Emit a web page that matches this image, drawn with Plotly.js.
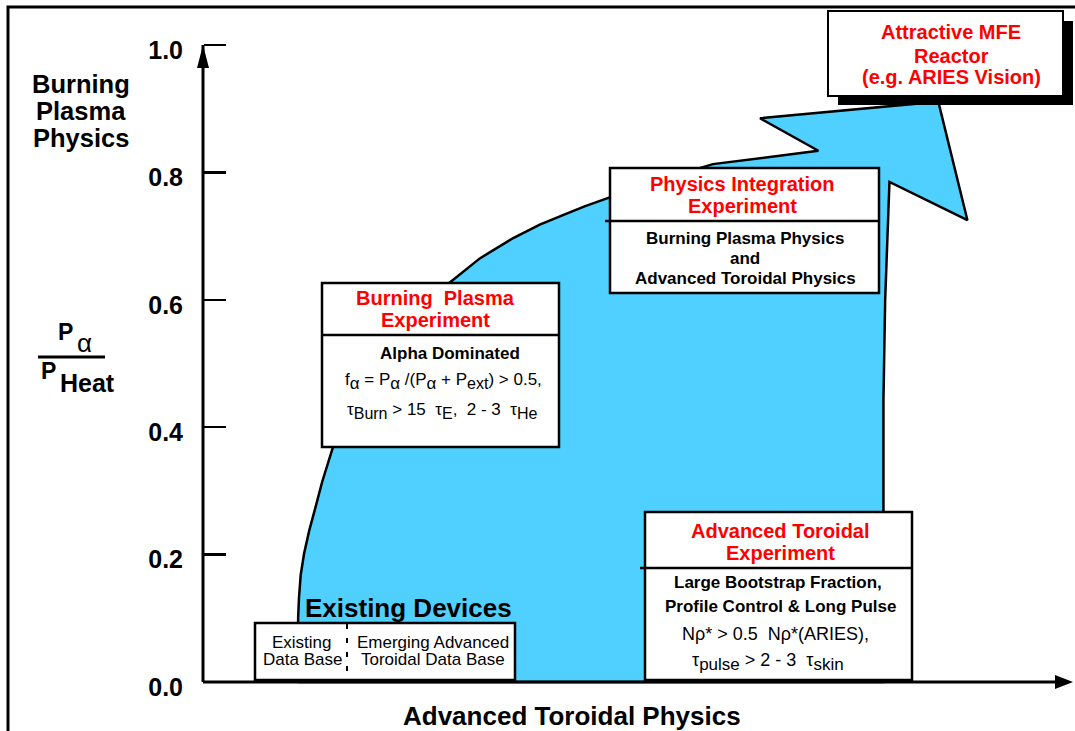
<!DOCTYPE html>
<html><head><meta charset="utf-8">
<script src="https://cdn.plot.ly/plotly-3.0.1.min.js"></script>
<style>html,body{margin:0;padding:0;background:#fff;overflow:hidden}</style>
</head><body><div id="chart" style="width:1075px;height:731px"></div>
<script>
// ---- data ----
const tickVals = [0, 0.2, 0.4, 0.6, 0.8, 1.0];
const tickText = ['0.0', '0.2', '0.4', '0.6', '0.8', '1.0'];
// outline of the development-path region (x: advanced toroidal physics, normalised; y: Pα/PHeat)
const pathX = [0.111, 0.111, 0.111, 0.112, 0.114, 0.118, 0.124, 0.131, 0.139, 0.151, 0.166, 0.186, 0.209, 0.236, 0.262, 0.288, 0.323, 0.362, 0.393, 0.420, 0.446, 0.473, 0.533, 0.595, 0.673, 0.718, 0.650, 0.858, 0.892, 0.801, 0.796, 0.794, 0.794, 0.794, 0.111];
const pathY = [0.000, 0.061, 0.100, 0.132, 0.168, 0.202, 0.238, 0.273, 0.314, 0.366, 0.418, 0.470, 0.520, 0.567, 0.600, 0.627, 0.665, 0.697, 0.718, 0.733, 0.747, 0.760, 0.788, 0.813, 0.827, 0.834, 0.885, 0.911, 0.725, 0.785, 0.600, 0.443, 0.270, 0.000, 0.000];
const yTitleLines = ['Burning', 'Plasma', 'Physics'];
const xTitle = 'Advanced Toroidal Physics';

// ---- geometry (pixels) ----
const W = 1075, H = 731;
const X0 = 203, XS = 857, Y0 = 682, YS = 637;
const F = '"Liberation Sans", Arial, Helvetica, sans-serif';
const RED = 'rgb(255,0,0)';
const px = v => v / W, py = v => 1 - v / H;
const sb = (t, s) => '<sub><span style="font-size:' + s + 'px">' + t + '</span></sub>';

const trace = {
  x: pathX, y: pathY, type: 'scatter', mode: 'lines', fill: 'toself',
  fillcolor: 'rgb(80,208,255)', line: {color: '#000', width: 2.5},
  hoverinfo: 'skip', showlegend: false
};

function box(x0, y0, x1, y1, lw) {
  return {type: 'rect', xref: 'paper', yref: 'paper', x0: px(x0), x1: px(x1), y0: py(y1), y1: py(y0),
    fillcolor: '#fff', line: {color: '#000', width: lw || 2.5}, layer: 'above'};
}
function hline(x0, x1, y, lw) {
  return {type: 'line', xref: 'paper', yref: 'paper', x0: px(x0), x1: px(x1), y0: py(y), y1: py(y),
    line: {color: '#000', width: lw || 2.5}, layer: 'above'};
}
function T(text, x, y, size, color, bold) {
  return {xref: 'paper', yref: 'paper', x: px(x), y: py(y), xanchor: 'center', yanchor: 'middle',
    showarrow: false, text: text,
    font: {family: F, size: size, color: color || '#000', weight: bold ? 'bold' : 'normal'}};
}

const shapes = [
  // outer frame
  {type: 'rect', xref: 'paper', yref: 'paper', x0: px(8), x1: 1.05, y0: -0.05, y1: py(7),
    line: {color: '#000', width: 3}, layer: 'below'},
  // axes
  {type: 'line', xref: 'x', yref: 'y', x0: 0, x1: 0, y0: 0, y1: 1.0, line: {color: '#000', width: 3}, layer: 'above'},
  {type: 'line', xref: 'x', yref: 'y', x0: 0, x1: 1.0, y0: 0, y1: 0, line: {color: '#000', width: 3}, layer: 'above'},
  {type: 'path', xref: 'x', yref: 'y', xsizemode: 'pixel', ysizemode: 'pixel', xanchor: 0, yanchor: 1.0,
    path: 'M -6 -23 L 0 0 L 6 -23 Z', fillcolor: '#000', line: {width: 0}, layer: 'above'},
  {type: 'path', xref: 'x', yref: 'y', xsizemode: 'pixel', ysizemode: 'pixel', xanchor: (W - 2 - X0) / XS, yanchor: 0,
    path: 'M -18 7 L 0 0 L -18 -7 Z', fillcolor: '#000', line: {width: 0}, layer: 'above'},
  // P_alpha / P_heat fraction bar
  hline(38, 105, 357, 3),
  // Burning plasma experiment box
  box(322, 283, 559, 447), hline(322, 559, 335),
  // Physics integration experiment box
  box(610, 168, 879, 293), hline(605, 879, 221),
  // Advanced toroidal experiment box
  box(645, 512, 912, 680), hline(640, 912, 568),
  // Reactor box with shadow
  {type: 'rect', xref: 'paper', yref: 'paper', x0: px(838), x1: px(1073), y0: py(105), y1: py(21),
    fillcolor: '#000', line: {width: 0}, layer: 'above'},
  box(828, 11, 1063, 96, 2),
  // existing devices box
  box(255, 623, 515, 680, 2.5),
  {type: 'line', xref: 'paper', yref: 'paper', x0: px(347), x1: px(347), y0: py(624), y1: py(679),
    line: {color: '#000', width: 2, dash: '5px,9px'}, layer: 'above'}
];

const annotations = [
  T(yTitleLines[0], 81, 84, 25.5, '#000', true),
  T(yTitleLines[1], 81, 111, 25.5, '#000', true),
  T(yTitleLines[2], 81, 138, 25.5, '#000', true),
  T('P', 65, 332, 23, '#000', true),
  T('α', 84, 343, 26, '#000', false),
  T('P', 49, 371, 23, '#000', true),
  T('Heat', 87, 383, 25, '#000', true),
  T(xTitle, 572, 716, 26, '#000', true),

  T('Burning&nbsp;&nbsp;Plasma', 435, 298, 20, RED, true),
  T('Experiment', 435, 320, 20, RED, true),
  T('Alpha Dominated', 450, 353, 17, '#000', true),
  T('f' + sb('α', 17) + ' = P' + sb('α', 17) + ' /(P' + sb('α', 17) + ' + P' + sb('ext', 16) + ') &gt; 0.5,', 443, 381, 17, '#000', false),
  T('τ' + sb('Burn', 16) + ' &gt; 15&nbsp;&nbsp;τ' + sb('E', 16) + ',&nbsp;&nbsp;2 - 3&nbsp;&nbsp;τ' + sb('He', 16), 442, 411, 17, '#000', false),

  T('Physics Integration', 742, 184, 20, RED, true),
  T('Experiment', 742, 206, 20, RED, true),
  T('Burning Plasma Physics', 745, 238, 17, '#000', true),
  T('and', 745, 258, 17, '#000', true),
  T('Advanced Toroidal Physics', 745, 278, 17, '#000', true),

  T('Advanced Toroidal', 780, 531, 20, RED, true),
  T('Experiment', 780, 553, 20, RED, true),
  T('Large Bootstrap Fraction,', 778, 582, 17, '#000', true),
  T('Profile Control &amp; Long Pulse', 780, 606, 17, '#000', true),
  T('Nρ* &gt; 0.5&nbsp;&nbsp;Nρ*(ARIES),', 775, 634, 18, '#000', false),
  T('τ' + sb('pulse', 17) + ' &gt; 2 - 3&nbsp;&nbsp;τ' + sb('skin', 17), 768, 662, 18, '#000', false),

  T('Attractive MFE', 951, 32, 20, RED, true),
  T('Reactor', 951, 56, 20, RED, true),
  T('(e.g. ARIES Vision)', 951, 77, 20, RED, true),

  T('Existing Devices', 408, 608, 26, '#000', true),
  T('Existing', 302, 642, 17, '#000', false),
  T('Data Base', 302, 659, 17, '#000', false),
  T('Emerging Advanced', 433, 642, 17, '#000', false),
  T('Toroidal Data Base', 433, 659, 17, '#000', false)
];

const layout = {
  width: W, height: H, margin: {l: 0, r: 0, t: 0, b: 0},
  paper_bgcolor: '#fff', plot_bgcolor: '#fff', showlegend: false,
  xaxis: {range: [-X0 / XS, (W - X0) / XS], visible: false, fixedrange: true},
  yaxis: {range: [-(H - Y0) / YS, Y0 / YS], anchor: 'free', position: X0 / W,
    tickvals: tickVals, ticktext: tickText, ticks: 'inside', ticklen: 22, tickwidth: 2.5, tickcolor: '#000',
    showline: false, showgrid: false, zeroline: false, fixedrange: true,
    tickfont: {family: F, size: 25, color: '#000', weight: 'bold'},
    ticklabelstandoff: 20, ticklabelshift: 5},
  shapes: shapes, annotations: annotations
};

Plotly.newPlot('chart', [trace], layout, {staticPlot: true, displayModeBar: false});
</script></body></html>
